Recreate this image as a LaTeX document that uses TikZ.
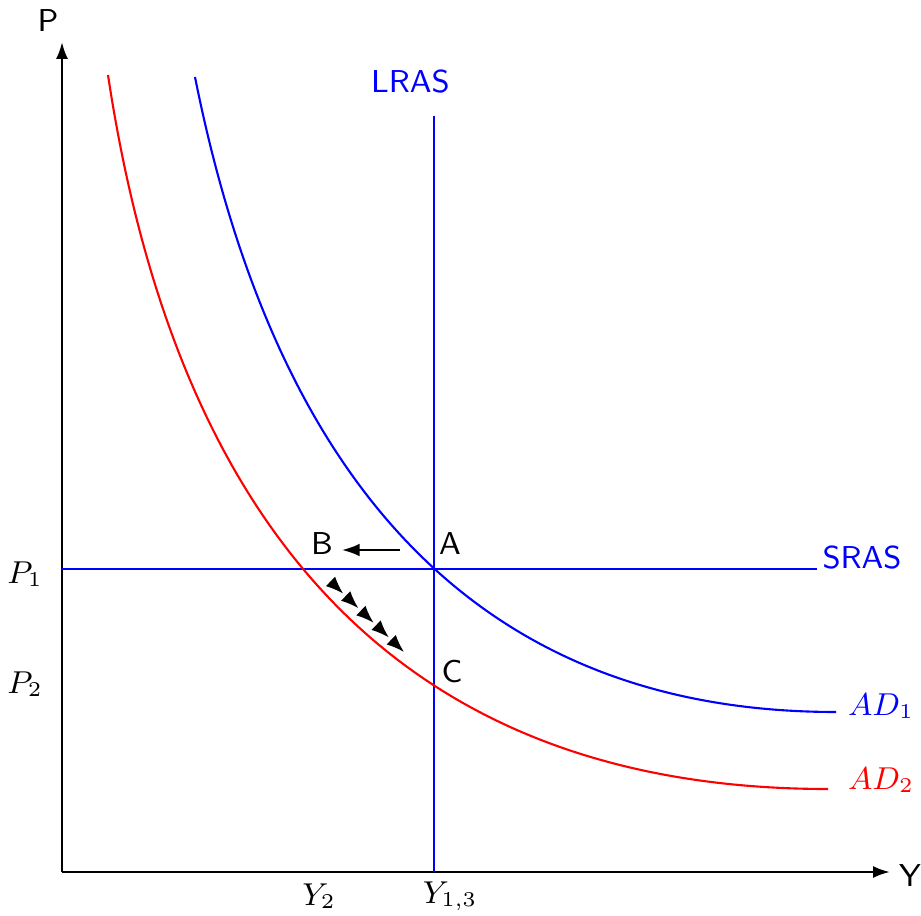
\documentclass[tikz,border=0pt]{standalone}
\usetikzlibrary{arrows,arrows.meta,decorations.markings,positioning}
\begin{document}
\begin{tikzpicture}[font=\fontsize{9}{11}\selectfont\sffamily]
\tikzstyle{axis}=[line width=0.7pt,-{Latex[length=4.8pt,width=3.4pt]}]
\tikzstyle{supply}=[blue,semithick]
\tikzstyle{every node}=[inner sep=1pt]
\tikzstyle{adjust}=[postaction={decorate},decoration={markings,
  mark=at position 0.2 with {\arrow{Latex[length=5pt,width=3.8pt]}},
  mark=at position 0.4 with {\arrow{Latex[length=5pt,width=3.8pt]}},
  mark=at position 0.6 with {\arrow{Latex[length=5pt,width=3.8pt]}},
  mark=at position 0.8 with {\arrow{Latex[length=5pt,width=3.8pt]}},
  mark=at position 0.999 with {\arrow{Latex[length=5pt,width=3.8pt]}}}]
\useasboundingbox (-0.62,-0.43) rectangle (8.59,8.72);
% axes
\coordinate (O) at (0,0);
\coordinate (Xend) at (8.28,0);
\coordinate (Yend) at (0,8.30);
\draw[axis] (O) -- (Xend);
\draw[axis] (O) -- (Yend);
\node (P) at (-0.14,8.51) {P};
\node (Y) at (8.48,-0.04) {Y};
% supply curves
\coordinate (L0) at (3.72,0);
\coordinate (L1) at (3.72,7.56);
\coordinate (S0) at (0,3.03);
\coordinate (S1) at (7.55,3.03);
\draw[supply] (L0) -- (L1);
\draw[supply] (S0) -- (S1);
\node[blue] (LRAS) at (3.485,7.90) {LRAS};
\node[blue] (SRAS) at (8.00,3.14) {SRAS};
% demand curves
\coordinate (D1s) at (1.33,7.95);
\coordinate (D1e) at (7.74,1.60);
\coordinate (D2s) at (0.46,7.97);
\coordinate (D2e) at (7.66,0.83);
\draw[blue,semithick] (D1s) .. controls (2.1,4.1) and (4.0,1.6) .. (D1e);
\draw[red,semithick] (D2s) .. controls (1.15,3.4) and (3.4,0.83) .. (D2e);
\node[blue] (AD1) at (8.19,1.66) {$AD_1$};
\node[red] (AD2) at (8.19,0.92) {$AD_2$};
% points
\node (A) at (3.88,3.28) {A};
\node (B) at (2.60,3.28) {B};
\node (C) at (3.90,2.00) {C};
\coordinate (mvS) at (3.38,3.22);
\coordinate (mvE) at (2.80,3.22);
\draw[semithick,-{Latex[length=5pt,width=3.6pt]}] (mvS) -- (mvE);
\coordinate (adjS) at (2.66,2.93);
\coordinate (adjE) at (3.42,2.20);
\path[adjust] (adjS) -- (adjE);
% axis labels
\node (P1) at (-0.37,2.98) {$P_1$};
\node (P2) at (-0.37,1.88) {$P_2$};
\node (Y2) at (2.57,-0.24) {$Y_2$};
\node (Y13) at (3.88,-0.24) {$Y_{1,3}$};
\end{tikzpicture}
\end{document}
